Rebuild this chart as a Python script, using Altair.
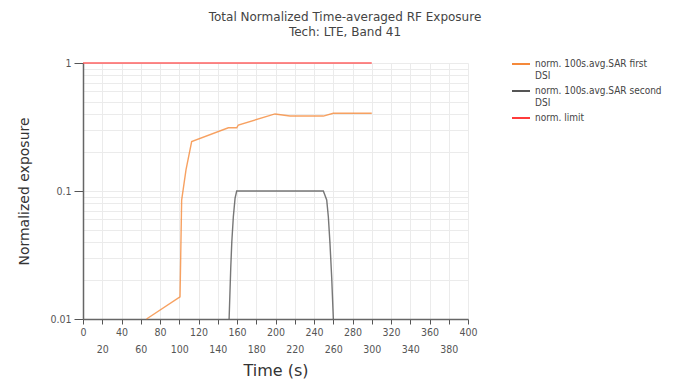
import altair as alt
import pandas as pd

# ---- data ----
first_t = [66, 100.8, 102.5, 107, 112.9, 151, 159.7, 161.4, 199.5, 215, 249.7, 260, 300]
first_v = [0.01, 0.0149, 0.085, 0.146, 0.243, 0.312, 0.312, 0.328, 0.40, 0.385, 0.385, 0.405, 0.405]

second_t = [151.8, 153.5, 154.6, 156.2, 158.0, 159.7, 249.7, 253.2, 254.9, 256.6, 258.4, 260.1]
second_v = [0.01, 0.025, 0.04, 0.063, 0.088, 0.1, 0.1, 0.085, 0.063, 0.039, 0.021, 0.01]

limit_t = [0, 300]
limit_v = [1, 1]

series_names = ["norm. 100s.avg.SAR first|DSI", "norm. 100s.avg.SAR second|DSI", "norm. limit"]
series_colors = ["#f5893a", "#555555", "#ff3b3b"]

x_ticks = list(range(0, 401, 20))
y_grid = [0.01, 0.02, 0.03, 0.04, 0.05, 0.06, 0.07, 0.08, 0.09,
          0.1, 0.2, 0.3, 0.4, 0.5, 0.6, 0.7, 0.8, 0.9, 1]
y_labels = [0.01, 0.1, 1]

rows = []
for name, ts, vs in zip(series_names, [first_t, second_t, limit_t], [first_v, second_v, limit_v]):
    for i, (t, v) in enumerate(zip(ts, vs)):
        rows.append({"t": t, "v": v, "series": name, "idx": i})
df = pd.DataFrame(rows)

FONT = "DejaVu Sans"
LBL = "DejaVu Sans Condensed, DejaVu Sans"
decade_test = "indexof([0.01, 0.1, 1], datum.value) >= 0"

chart = alt.Chart(df).mark_line(strokeWidth=1.4, strokeOpacity=0.8).encode(
    x=alt.X(
        "t:Q",
        scale=alt.Scale(domain=[0, 400], nice=False, zero=False),
        axis=alt.Axis(
            values=x_ticks, title="Time (s)", format="d",
            labelExpr="datum.value % 40 == 0 ? datum.label : ['', datum.label]",
            labelOverlap=False, labelFlush=False, labelLineHeight=17,
            labelFont=LBL, labelFontSize=10.5, labelColor="#555",
            tickSize=5, tickColor="#555", labelPadding=3,
            domainColor="#666", domainWidth=1.5,
            grid=True, gridColor="#ebebeb",
            titleFont=FONT, titleFontSize=16, titleFontWeight="normal",
            titleColor="#333", titlePadding=8,
        ),
    ),
    y=alt.Y(
        "v:Q",
        scale=alt.Scale(type="log", domain=[0.01, 1], nice=False),
        axis=alt.Axis(
            values=y_grid, title="Normalized exposure", format="~g",
            labelExpr=decade_test + " ? datum.label : ''",
            labelOverlap=False, labelFlush=False,
            labelFont=LBL, labelFontSize=10.5, labelColor="#555",
            tickSize=9, tickColor="#555", labelPadding=3,
            tickOpacity={"condition": {"test": decade_test, "value": 1}, "value": 0},
            domainColor="#666", domainWidth=1.5,
            grid=True, gridColor="#ebebeb",
            titleFont=FONT, titleFontSize=14, titleFontWeight="normal",
            titleColor="#333", titlePadding=18,
        ),
    ),
    color=alt.Color(
        "series:N",
        scale=alt.Scale(domain=series_names, range=series_colors),
        legend=alt.Legend(
            title=None, orient="none", legendX=428, legendY=-9,
            symbolType="stroke", symbolSize=324, symbolStrokeWidth=2,
            symbolOpacity=1,
            labelExpr="split(datum.label, '|')",
            labelFont=LBL, labelFontSize=10, labelColor="#444",
            rowPadding=-6, labelLimit=300,
        ),
    ),
    order="idx:Q",
).properties(
    width=385,
    height=256,
    title=alt.TitleParams(
        text="Total Normalized Time-averaged RF Exposure",
        subtitle="Tech: LTE, Band 41",
        anchor="middle", frame="bounds", dx=5,
        font=FONT, fontSize=12, fontWeight="normal", color="#444",
        subtitleFont=FONT, subtitleFontSize=12, subtitleColor="#444",
        subtitlePadding=3, offset=15,
    ),
    autosize=alt.AutoSizeParams(type="none"),
    padding={"left": 75, "top": 55, "right": 203, "bottom": 62},
).configure_view(stroke=None)

chart.save("out.html", embed_options={"renderer": "svg", "actions": False})
